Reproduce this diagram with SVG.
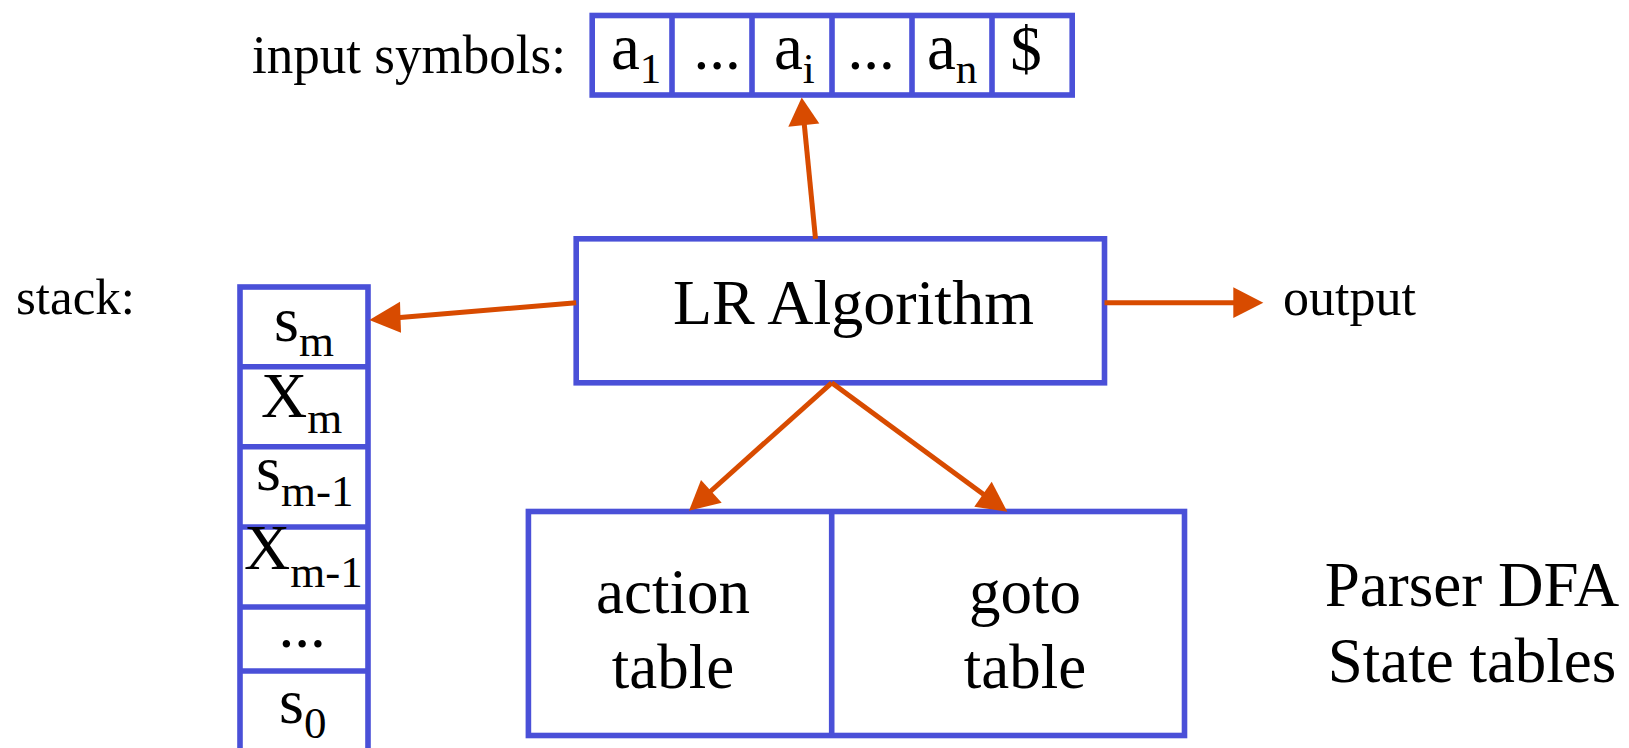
<svg xmlns="http://www.w3.org/2000/svg" width="1629" height="748" viewBox="0 0 1629 748">
<style>
.box{fill:#ffffff;stroke:#4a50d8;stroke-width:5.6}
.div{stroke:#4a50d8;stroke-width:5.6;fill:none}
.t{font-family:"Liberation Serif","Times New Roman",serif;fill:#000}
.conn{stroke:#d84b00;stroke-width:5;fill:none}
.head{fill:#d84b00}
</style>
<rect width="1629" height="748" fill="#ffffff"/>

<g id="input-label">
<text class="t" x="252" y="73" font-size="55" textLength="314" lengthAdjust="spacingAndGlyphs">input symbols:</text>
</g>

<g id="input-tape">
<rect class="box" x="592.2" y="15.5" width="480" height="79.5"/>
<line class="div" x1="672" y1="15.5" x2="672" y2="95"/>
<line class="div" x1="752" y1="15.5" x2="752" y2="95"/>
<line class="div" x1="832" y1="15.5" x2="832" y2="95"/>
<line class="div" x1="912" y1="15.5" x2="912" y2="95"/>
<line class="div" x1="992" y1="15.5" x2="992" y2="95"/>
<text class="t" x="611" y="69" font-size="65">a<tspan font-size="43" y="83">1</tspan></text>
<text class="t" x="717" y="69" font-size="63" text-anchor="middle">...</text>
<text class="t" x="774" y="69" font-size="65">a<tspan font-size="43" y="83">i</tspan></text>
<text class="t" x="871" y="69" font-size="63" text-anchor="middle">...</text>
<text class="t" x="927" y="69" font-size="65">a<tspan font-size="43" y="83">n</tspan></text>
<text class="t" x="1026" y="70" font-size="63" text-anchor="middle">$</text>
</g>

<g id="stack-label">
<text class="t" x="16" y="314" font-size="51">stack:</text>
</g>

<g id="stack">
<rect class="box" x="240" y="287" width="128" height="490"/>
<line class="div" x1="240" y1="366.7" x2="368" y2="366.7"/>
<line class="div" x1="240" y1="446.7" x2="368" y2="446.7"/>
<line class="div" x1="240" y1="527" x2="368" y2="527"/>
<line class="div" x1="240" y1="607" x2="368" y2="607"/>
<line class="div" x1="240" y1="671" x2="368" y2="671"/>
<text class="t" x="274" y="341" font-size="64">s<tspan font-size="45" y="356">m</tspan></text>
<text class="t" x="261" y="417" font-size="64">X<tspan font-size="45" y="433">m</tspan></text>
<text class="t" x="256" y="490" font-size="64">s<tspan font-size="45" y="506">m-1</tspan></text>
<text class="t" x="244" y="569" font-size="64">X<tspan font-size="45" y="587">m-1</tspan></text>
<text class="t" x="302" y="647" font-size="63" text-anchor="middle">...</text>
<text class="t" x="279" y="723" font-size="64">s<tspan font-size="45" y="738">0</tspan></text>
</g>

<g id="lr-algorithm">
<rect class="box" x="576.2" y="238.8" width="528.3" height="144"/>
<text class="t" x="673" y="324" font-size="64">LR Algorithm</text>
</g>

<g id="output-label">
<text class="t" x="1283" y="315" font-size="52">output</text>
</g>

<g id="tables">
<rect class="box" x="528.4" y="511.5" width="656.1" height="224"/>
<line class="div" x1="831.7" y1="511.5" x2="831.7" y2="735.5"/>
<text class="t" x="673" y="613" font-size="63" text-anchor="middle">action</text>
<text class="t" x="673" y="688" font-size="63" text-anchor="middle">table</text>
<text class="t" x="1025" y="613" font-size="63" text-anchor="middle">goto</text>
<text class="t" x="1025" y="688" font-size="63" text-anchor="middle">table</text>
</g>

<g id="dfa-label">
<text class="t" x="1472" y="606" font-size="63" text-anchor="middle">Parser DFA</text>
<text class="t" x="1472" y="682" font-size="63" text-anchor="middle">State tables</text>
</g>

<g id="connectors">
<path class="conn" d="M815.5,238.8 L804.1,122.4"/>
<path class="head" d="M801.7,97.5 L788.3,126.7 L819.3,123.5 z"/>
<path class="conn" d="M576.2,302.7 L394.2,317.9"/>
<path class="head" d="M369.3,320 L400,301.7 L401,332.7 z"/>
<path class="conn" d="M1104.5,302.7 L1236,302.7"/>
<path class="head" d="M1263.3,302.7 L1233.3,287.3 L1233.3,318.1 z"/>
<path class="conn" d="M831.7,382.8 L707.6,494"/>
<path class="head" d="M689,510.7 L701,480 L721.7,502.7 z"/>
<path class="conn" d="M831.7,382.8 L987.1,496.9"/>
<path class="head" d="M1007.3,511.7 L991.7,481.7 L974.3,506.7 z"/>
</g>
</svg>
